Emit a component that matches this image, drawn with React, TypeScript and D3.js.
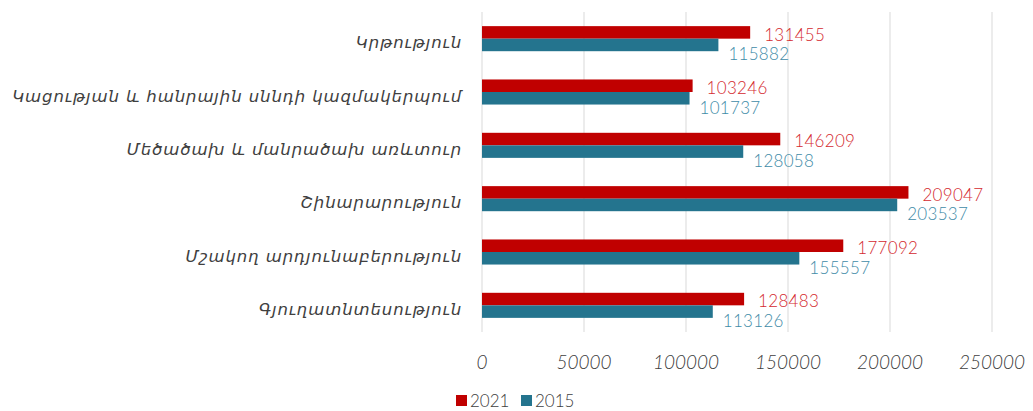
import React from 'react';
import * as d3 from 'd3';

const categories = [
  'Կրթություն',
  'Կացության և հանրային սննդի կազմակերպում',
  'Մեծածախ և մանրածախ առևտուր',
  'Շինարարություն',
  'Մշակող արդյունաբերություն',
  'Գյուղատնտեսություն',
];
const values2021 = [131455, 103246, 146209, 209047, 177092, 128483];
const values2015 = [115882, 101737, 128058, 203537, 155557, 113126];
const seriesNames = ['2021', '2015'];
const xTicks = [0, 50000, 100000, 150000, 200000, 250000];

const barColors = ['#c00000', '#24748e'];
const labelColors = ['#d42a2f', '#3f8ca8'];

const W = 1033;
const H = 411;
const plot = { left: 482, right: 992, top: 12, bottom: 332 };

export default function App() {
  const x = d3.scaleLinear().domain([0, 250000]).range([plot.left, plot.right]);
  const y = d3.scaleBand<string>()
    .domain(categories)
    .range([plot.top, plot.bottom])
    .paddingInner(0.53)
    .paddingOuter(0.265);
  const sub = d3.scaleBand<string>().domain(seriesNames).range([0, y.bandwidth()]);

  const series = [values2021, values2015];

  return (
    <svg
      width={W}
      height={H}
      style={{ position: 'absolute', left: 0, top: 0, background: '#fff' }}
    >
      {/* gridlines */}
      {xTicks.map(t => (
        <line key={t} x1={x(t)} x2={x(t)} y1={plot.top} y2={plot.bottom} stroke="#d9d9d9" strokeWidth={1} />
      ))}

      {/* bars */}
      {series.map((vals, si) =>
        vals.map((v, i) => (
          <rect
            key={`${si}-${i}`}
            x={x(0)}
            y={(y(categories[i]) ?? 0) + (sub(seriesNames[si]) ?? 0)}
            width={x(v) - x(0)}
            height={sub.bandwidth()}
            fill={barColors[si]}
          />
        ))
      )}

      {/* data labels */}
      {series.map((vals, si) =>
        vals.map((v, i) => {
          const top = (y(categories[i]) ?? 0) + (sub(seriesNames[si]) ?? 0);
          const bottom = top + sub.bandwidth();
          return (
            <text
              key={`l-${si}-${i}`}
              x={x(v) + (si === 0 ? 14 : 10)}
              y={bottom + (si === 0 ? 2 : 9)}
              fill={labelColors[si]}
              fontFamily="Lato, 'Open Sans', sans-serif"
              fontWeight={300}
              fontSize={17}
              letterSpacing={0.3}
            >
              {v}
            </text>
          );
        })
      )}

      {/* category labels */}
      {categories.map(c => (
        <text
          key={c}
          x={462}
          y={(y(c) ?? 0) + y.bandwidth() / 2 + 4}
          dy="0.35em"
          textAnchor="end"
          fill="#404040"
          fontFamily="'DejaVu Sans', sans-serif"
          fontStyle="italic"
          fontSize={16.5}
          letterSpacing={0.9}
        >
          {c}
        </text>
      ))}

      {/* x tick labels */}
      {xTicks.map(t => (
        <text
          key={`t-${t}`}
          x={x(t)}
          y={369}
          textAnchor="middle"
          fill="#404040"
          fontFamily="Lato, 'Open Sans', sans-serif"
          fontStyle="italic"
          fontWeight={300}
          fontSize={19}
        >
          {t}
        </text>
      ))}

      {/* legend */}
      {seriesNames.map((s, i) => {
        const lx = 456 + i * 65;
        return (
          <g key={s} transform={`translate(${lx},395)`}>
            <rect x={0} y={0} width={11} height={11} fill={barColors[i]} />
            <text
              x={14}
              y={12}
              fill="#404040"
              fontFamily="Lato, 'Open Sans', sans-serif"
              fontWeight={300}
              fontSize={17}
            >
              {s}
            </text>
          </g>
        );
      })}
    </svg>
  );
}
